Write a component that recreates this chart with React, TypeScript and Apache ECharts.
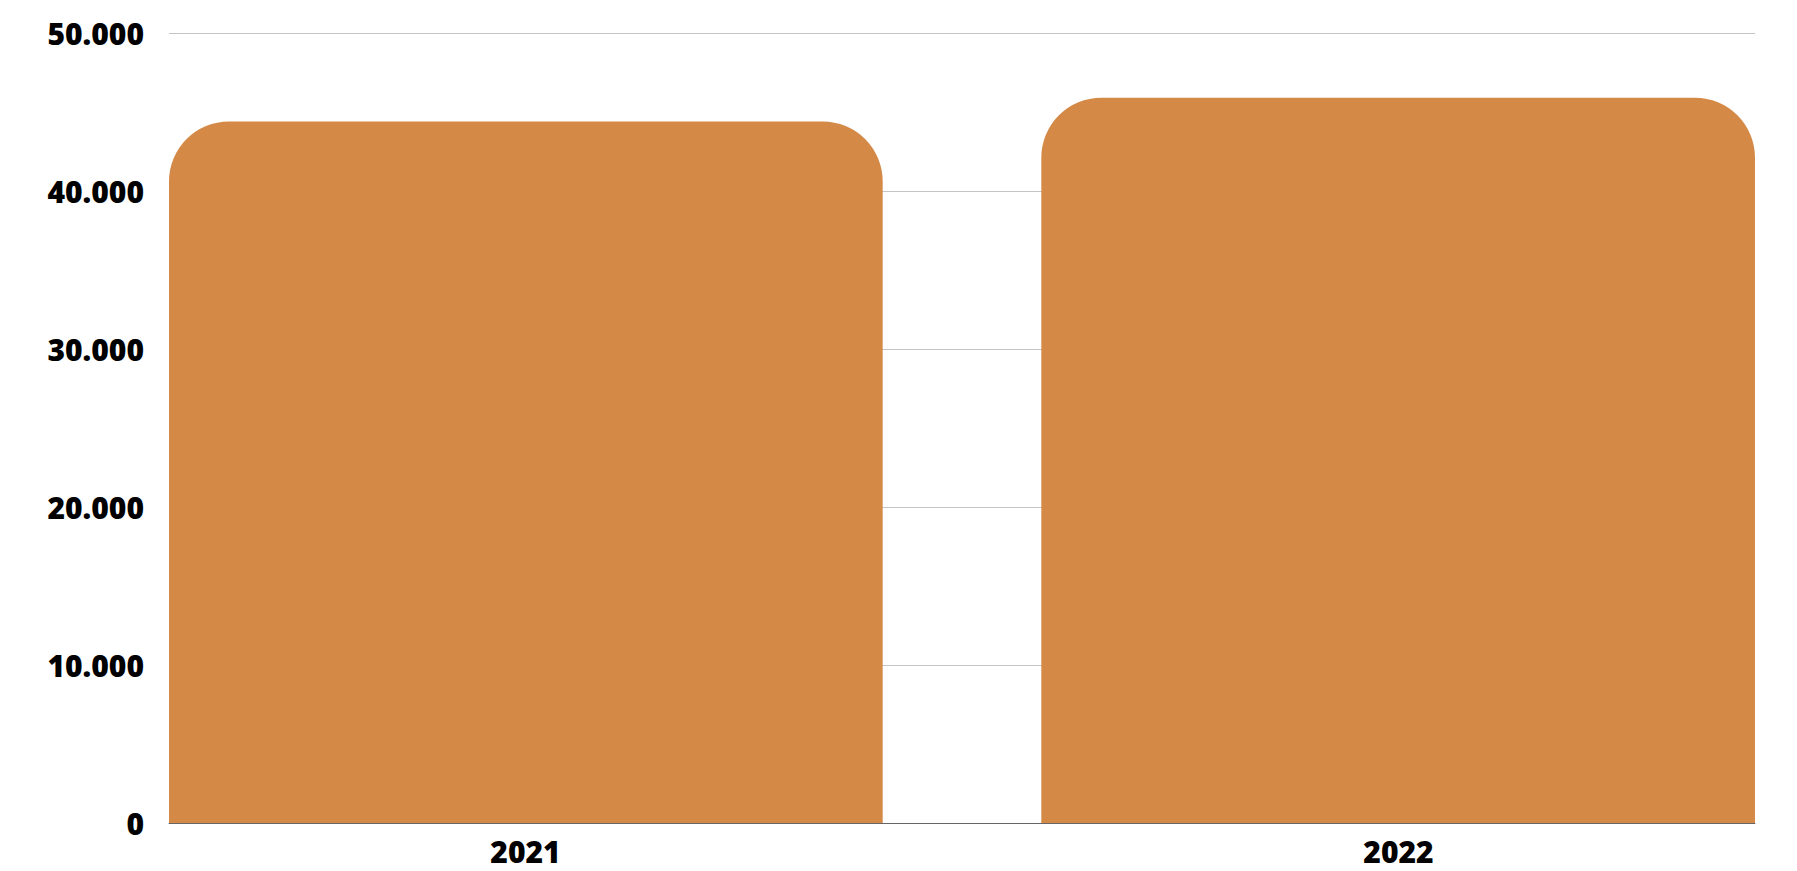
import React, { useEffect, useRef } from "react";
import * as echarts from "echarts";

const categories = ["2021", "2022"];
const values = [44400, 45900];
const yTicks = { min: 0, max: 50000, interval: 10000 };

const fmt = (v: number) => String(v).replace(/\B(?=(\d{3})+(?!\d))/g, ".");

export default function App() {
  const ref = useRef<HTMLDivElement>(null);
  useEffect(() => {
    document.body.style.margin = "0";
    const chart = echarts.init(ref.current!, null, { renderer: "svg" });
    const font = { fontFamily: "'Open Sans', 'Noto Sans', sans-serif", fontWeight: 800 as any, color: "#000" };
    const seriesA = values.map((v, i) => (i === 0 ? v : "-"));
    const seriesB = values.map((v, i) => (i === 1 ? v : "-"));
    const barStyle = { color: "#d48947", borderRadius: [60, 60, 0, 0] };
    chart.setOption({
      animation: false,
      backgroundColor: "#fff",
      grid: { left: 169, right: 42, top: 33, bottom: 48, containLabel: false },
      xAxis: {
        type: "category",
        data: categories,
        axisLine: { show: true, lineStyle: { color: "#666", width: 1 } },
        axisTick: { show: false },
        axisLabel: {
          margin: 15,
          ...font,
          fontSize: 30,
          lineHeight: 26,
          formatter: (v: string, i: number) => (i === 0 ? `{l|${v}}` : `{r|${v}}`),
          rich: {
            l: { ...font, fontSize: 30, lineHeight: 26, padding: [0, 80, 0, 0] },
            r: { ...font, fontSize: 30, lineHeight: 26, padding: [0, 0, 0, 80] },
          },
        },
      },
      yAxis: {
        type: "value",
        min: yTicks.min,
        max: yTicks.max,
        interval: yTicks.interval,
        axisLine: { show: false },
        axisTick: { show: false },
        splitLine: { show: true, lineStyle: { color: "#c4c4c4", width: 1 } },
        axisLabel: { ...font, fontSize: 30, margin: 25, formatter: (v: number) => fmt(v) },
      },
      series: [
        { type: "bar", data: seriesA, barWidth: 714, barGap: "-88.85%", itemStyle: barStyle },
        { type: "bar", data: seriesB, barWidth: 714, barGap: "-88.85%", itemStyle: barStyle },
      ],
    });
    return () => chart.dispose();
  }, []);
  return <div ref={ref} style={{ width: 1797, height: 871 }} />;
}
